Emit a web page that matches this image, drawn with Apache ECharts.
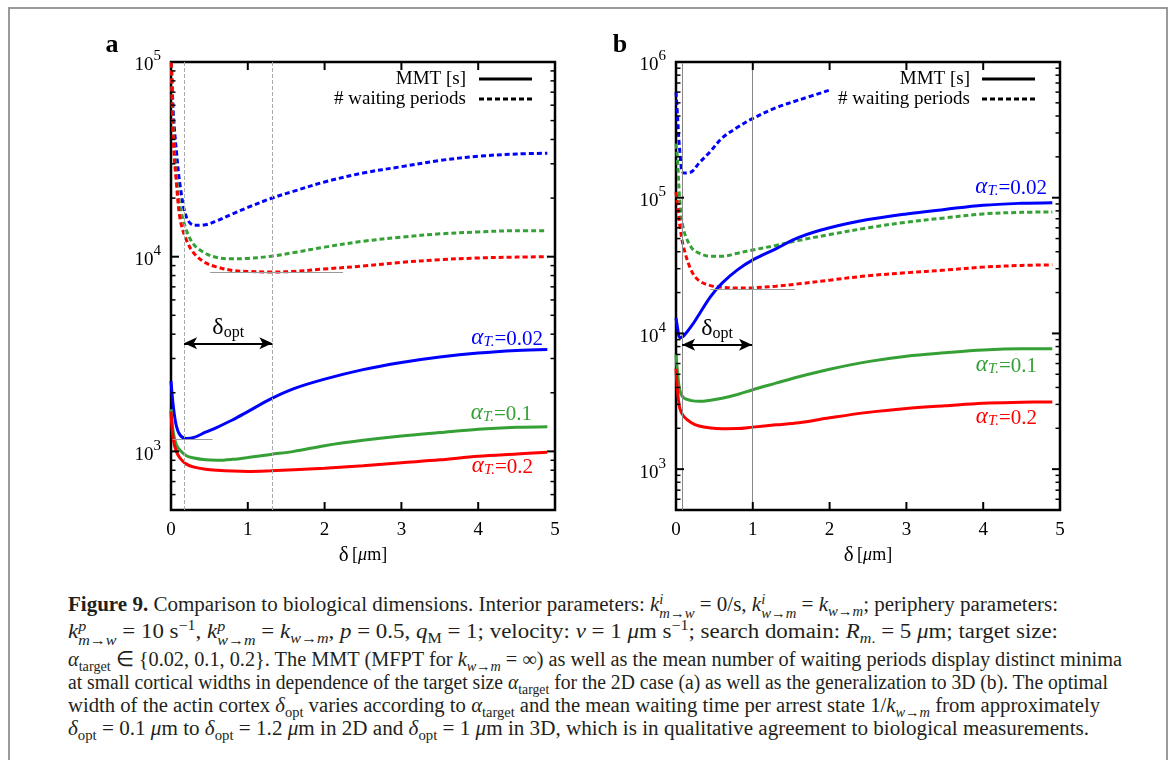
<!DOCTYPE html>
<html>
<head>
<meta charset="utf-8">
<script src="https://cdn.jsdelivr.net/npm/echarts@6/dist/echarts.min.js"></script>
<style>
  body { margin: 0; width: 1171px; height: 760px; overflow: hidden; position: relative; background: #fff; }
  #frame { position: absolute; left: 8px; top: 7px; width: 1156px; height: 800px; border: 2px solid #9a9a9a; }
  #chart { position: absolute; left: 0; top: 0; width: 1171px; height: 580px; }
  #caption { position: absolute; left: 68px; top: 593px; font-family: "Liberation Serif", serif; font-size: 20.5px;
             line-height: 23px; color: #231f20; }
  #caption .ln { display: block; width: max-content; white-space: nowrap; transform-origin: 0 0; }
  #caption sub, #caption sup { font-size: 0.7em; line-height: 0; }
  .ss { display: inline-block; vertical-align: -0.45em; font-size: 0.7em; line-height: 0.95; text-align: left; }
  .ss span { display: block; }
</style>
</head>
<body>
<div id="frame"></div>
<div id="chart"></div>
<div id="caption">
<span class="ln" data-w="990"><b>Figure 9.</b> Comparison to biological dimensions. Interior parameters: <i>k</i><span class="ss"><span><i>i</i></span><span><i>m</i>→<i>w</i></span></span> = 0/s, <i>k</i><span class="ss"><span><i>i</i></span><span><i>w</i>→<i>m</i></span></span> = <i>k</i><sub><i>w</i>→<i>m</i></sub>; periphery parameters:</span>
<span class="ln" data-w="990"><i>k</i><span class="ss"><span><i>p</i></span><span><i>m</i>→<i>w</i></span></span> = 10 s<sup>−1</sup>, <i>k</i><span class="ss"><span><i>p</i></span><span><i>w</i>→<i>m</i></span></span> = <i>k</i><sub><i>w</i>→<i>m</i></sub>, <i>p</i> = 0.5, <i>q</i><sub>M</sub> = 1; velocity: <i>v</i> = 1 <i>μ</i>m s<sup>−1</sup>; search domain: <i>R</i><sub><i>m</i>.</sub> = 5 <i>μ</i>m; target size:</span>
<span class="ln" data-w="1054"><i>α</i><sub>target</sub> ∈ {0.02, 0.1, 0.2}. The MMT (MFPT for <i>k</i><sub><i>w</i>→<i>m</i></sub> = ∞) as well as the mean number of waiting periods display distinct minima</span>
<span class="ln" data-w="1040">at small cortical widths in dependence of the target size <i>α</i><sub>target</sub> for the 2D case (a) as well as the generalization to 3D (b). The optimal</span>
<span class="ln" data-w="1032">width of the actin cortex <i>δ</i><sub>opt</sub> varies according to <i>α</i><sub>target</sub> and the mean waiting time per arrest state 1/<i>k</i><sub><i>w</i>→<i>m</i></sub> from approximately</span>
<span class="ln" data-w="1021"><i>δ</i><sub>opt</sub> = 0.1 <i>μ</i>m to <i>δ</i><sub>opt</sub> = 1.2 <i>μ</i>m in 2D and <i>δ</i><sub>opt</sub> = 1 <i>μ</i>m in 3D, which is in qualitative agreement to biological measurements.</span>
</div>
<script>
  // caption lines are squeezed to the widths of the printed caption
  document.querySelectorAll('#caption .ln').forEach(el => {
    const w = el.getBoundingClientRect().width;
    el.style.transform = 'scaleX(' + (Number(el.dataset.w) / w) + ')';
  });

  // panel a (2D): cortex width delta [um] and curves
  const deltaA = [0, 0.03, 0.07, 0.12, 0.2, 0.3, 0.45, 0.6, 0.8, 1.0, 1.3, 1.6, 2.0, 2.5, 3.0, 3.5, 4.0, 4.5, 4.9];
  const mmtA002 = [2300, 1700, 1350, 1210, 1165, 1180, 1255, 1330, 1450, 1600, 1860, 2100, 2350, 2630, 2860, 3050, 3200, 3300, 3340];
  const mmtA01 = [1650, 1250, 1080, 1010, 950, 925, 905, 900, 910, 930, 965, 1000, 1070, 1140, 1200, 1250, 1300, 1330, 1340];
  const mmtA02 = [1600, 1150, 1000, 920, 860, 830, 810, 800, 792, 789, 795, 805, 820, 845, 875, 905, 945, 970, 990];
  const waitA002 = [120000, 55000, 35000, 23000, 16000, 14500, 14600, 15300, 16600, 17900, 19900, 21700, 24200, 26900, 29000, 31200, 32800, 33700, 34000];
  const waitA01 = [120000, 45000, 26000, 18000, 13700, 11500, 10400, 9900, 9750, 9800, 10050, 10500, 11200, 12000, 12600, 13100, 13400, 13600, 13600];
  const waitA02 = [120000, 40000, 24000, 15500, 12200, 10400, 9300, 8850, 8500, 8400, 8350, 8400, 8650, 8950, 9350, 9650, 9850, 9950, 10000];

  // panel b (3D)
  const deltaB = [0, 0.02, 0.05, 0.1, 0.2, 0.3, 0.45, 0.6, 0.8, 1.0, 1.3, 1.6, 2.0, 2.5, 3.0, 3.5, 4.0, 4.5, 4.9];
  const mmtB002 = [13000, 11000, 9300, 9600, 11300, 13800, 18700, 23500, 29400, 34800, 42000, 51000, 60000, 69000, 76000, 82000, 88000, 91000, 92000];
  const mmtB01 = [7000, 5200, 3800, 3350, 3200, 3160, 3220, 3330, 3550, 3850, 4300, 4800, 5450, 6200, 6800, 7200, 7550, 7700, 7700];
  const mmtB02 = [5500, 3800, 2800, 2450, 2200, 2080, 2010, 1985, 1990, 2040, 2120, 2200, 2390, 2620, 2800, 2930, 3060, 3110, 3130];
  const waitB002 = [600000, 400000, 220000, 152000, 155000, 180000, 220000, 275000, 330000, 384000, 460000, 525000, 620000, null, null, null, null, null, null];
  const waitB01 = [250000, 190000, 95000, 58000, 43000, 39000, 37000, 37000, 39000, 41200, 44500, 48500, 53500, 60000, 66000, 71000, 76000, 78000, 78500];
  const waitB02 = [110000, 88000, 62000, 43000, 29000, 24500, 22500, 21900, 21600, 21700, 22300, 23200, 24700, 26600, 28000, 29300, 30800, 31700, 32000];

  // annotations: optimal widths, minimum guides, arrow height
  const optA = [0.17, 1.32];
  const optB = [0.08, 0.99];
  const arrowYA = 3590;
  const arrowYB = 8260;
  const guideA1 = [0.02, 0.54, 1160];
  const guideA2 = [0.51, 2.24, 8310];
  const guideB1 = [0.45, 1.55, 21000];

  const xTicks = [1, 2, 3, 4];
  const yMajorA = [1e3, 1e4, 1e5];
  const yMajorB = [1e3, 1e4, 1e5, 1e6];
  const minorMult = [2, 3, 4, 5, 6, 7, 8, 9];
  const Y_MIN = 500;

  const BLUE = '#0000ff', GREEN = '#35a035', RED = '#ff0000';
  const FONT = '"Liberation Serif", serif';

  function minors(max) {
    const out = [];
    for (let d = 100; d < max; d *= 10) minorMult.forEach(m => { if (m * d >= Y_MIN && m * d < max) out.push(m * d); });
    return out;
  }
  function pairs(xs, ys) {
    return xs.map((x, i) => [x, ys[i]]).filter(p => p[1] != null);
  }

  const chart = echarts.init(document.getElementById('chart'));

  const grids = [
    { left: 171, top: 62, width: 384, height: 448, show: true, borderColor: '#000', borderWidth: 2.5 },
    { left: 676, top: 62, width: 384, height: 448, show: true, borderColor: '#000', borderWidth: 2.5 }
  ];
  const yMax = [1e5, 1e6];

  const xAxes = [], yAxes = [];
  [0, 1].forEach(g => {
    xAxes.push({
      type: 'value', gridIndex: g, min: 0, max: 5, interval: 1, position: 'bottom',
      axisLine: { show: false }, axisTick: { show: false }, splitLine: { show: false },
      axisLabel: { fontFamily: FONT, fontSize: 19, color: '#000', margin: 11 },
      name: '{d|δ} {n|[}{m|μ}{n|m]}', nameLocation: 'middle', nameGap: 35,
      nameTextStyle: { rich: {
        d: { fontFamily: FONT, fontSize: 21, color: '#000' },
        n: { fontFamily: FONT, fontSize: 18, color: '#000' },
        m: { fontFamily: FONT, fontSize: 18, fontStyle: 'italic', color: '#000' } } }
    });
    const majors = g === 0 ? yMajorA : yMajorB;
    yAxes.push({
      type: 'log', logBase: 10, gridIndex: g, min: Y_MIN, max: yMax[g], position: 'left',
      axisLine: { show: false }, axisTick: { show: false }, splitLine: { show: false },
      axisLabel: {
        customValues: majors, margin: 10,
        formatter: v => '{b|10}{e|' + Math.round(Math.log10(v)) + '}',
        rich: {
          b: { fontFamily: FONT, fontSize: 19, color: '#000', lineHeight: 26, verticalAlign: 'bottom' },
          e: { fontFamily: FONT, fontSize: 15, color: '#000', lineHeight: 15, verticalAlign: 'top' }
        }
      }
    });
  });

  function curve(g, xs, ys, color, dashed) {
    return {
      type: 'line', xAxisIndex: g, yAxisIndex: g,
      data: pairs(xs, ys), smooth: 0.35, showSymbol: false, silent: true,
      lineStyle: { color: color, width: 3, type: dashed ? [5, 3] : 'solid' },
      z: dashed ? 3 : 4
    };
  }

  const optLabel = {
    show: true, position: 'insideMiddleTop', distance: 3,
    formatter: '{d|δ}{s|opt}',
    rich: {
      d: { fontFamily: FONT, fontSize: 24, color: '#000' },
      s: { fontFamily: FONT, fontSize: 16, color: '#000', verticalAlign: 'bottom', padding: [10, 0, 0, 0] }
    }
  };
  function guides(g, opt, arrowY, segs, vStyle) {
    const data = [
      { xAxis: opt[0], lineStyle: vStyle },
      { xAxis: opt[1], lineStyle: vStyle }
    ];
    segs.forEach(s => data.push([
      { coord: [s[0], s[2]], lineStyle: { color: '#999', width: 1, type: 'solid' } },
      { coord: [s[1], s[2]] }
    ]));
    data.push([
      { coord: [opt[0], arrowY], symbol: 'arrow', symbolSize: [9, 13], lineStyle: { color: '#000', width: 2, type: 'solid' }, label: optLabel },
      { coord: [opt[1], arrowY], symbol: 'arrow', symbolSize: [9, 13] }
    ]);
    return {
      type: 'line', xAxisIndex: g, yAxisIndex: g, data: [], silent: true,
      markLine: { silent: true, animation: false, symbol: 'none', label: { show: false }, data: data }
    };
  }

  const series = [
    guides(0, optA, arrowYA, [guideA1, guideA2], { color: '#aaa', width: 1, type: [4, 2] }),
    guides(1, optB, arrowYB, [guideB1], { color: '#888', width: 1, type: 'solid' }),
    curve(0, deltaA, waitA002, BLUE, true),
    curve(0, deltaA, waitA01, GREEN, true),
    curve(0, deltaA, waitA02, RED, true),
    curve(0, deltaA, mmtA002, BLUE, false),
    curve(0, deltaA, mmtA01, GREEN, false),
    curve(0, deltaA, mmtA02, RED, false),
    curve(1, deltaB, waitB002, BLUE, true),
    curve(1, deltaB, waitB01, GREEN, true),
    curve(1, deltaB, waitB02, RED, true),
    curve(1, deltaB, mmtB002, BLUE, false),
    curve(1, deltaB, mmtB01, GREEN, false),
    curve(1, deltaB, mmtB02, RED, false)
  ];
  const gridSeries = [2, 8]; // a curve series living in each grid

  // text annotations
  function txt(x, y, text, align, style) {
    return { type: 'text', x: x, y: y, z: 10, silent: true,
      style: Object.assign({ text: text, align: align, verticalAlign: 'middle', fontFamily: FONT, fontSize: 19, fill: '#000' }, style || {}) };
  }
  function seg(x1, y1, x2, y2, w, dash) {
    const style = { stroke: '#000', lineWidth: w };
    if (dash) style.lineDash = dash;
    return { type: 'line', z: 10, silent: true, shape: { x1: x1, y1: y1, x2: x2, y2: y2 }, style: style };
  }
  function alpha(x, y, val, color) {
    return txt(x, y, '{a|α}{t|T.}{n|=' + val + '}', 'right', {
      rich: {
        a: { fontFamily: FONT, fontSize: 23, fontStyle: 'italic', fill: color, verticalAlign: 'bottom' },
        t: { fontFamily: FONT, fontSize: 15, fontStyle: 'italic', fill: color, verticalAlign: 'bottom', padding: [8, 0, 0, 0] },
        n: { fontFamily: FONT, fontSize: 21, fill: color, verticalAlign: 'bottom' }
      }
    });
  }
  function legend(xr, x1, x2) {
    return [
      txt(xr, 79, 'MMT [s]', 'right'),
      txt(xr, 99, '# waiting periods', 'right'),
      seg(x1, 79, x2, 79, 3),
      seg(x1, 99, x2, 99, 3, [5, 3])
    ];
  }

  const graphic = [
    txt(112, 45, 'a', 'center', { fontSize: 26, fontWeight: 'bold' }),
    txt(620, 45, 'b', 'center', { fontSize: 26, fontWeight: 'bold' }),
    ...legend(466, 479, 532),
    ...legend(970, 982, 1035),
    alpha(543, 338, '0.02', BLUE),
    alpha(532, 413, '0.1', GREEN),
    alpha(533, 466, '0.2', RED),
    alpha(1047, 187, '0.02', BLUE),
    alpha(1037, 365, '0.1', GREEN),
    alpha(1037, 417, '0.2', RED)
  ];

  chart.setOption({
    animation: false,
    grid: grids,
    xAxis: xAxes,
    yAxis: yAxes,
    series: series
  });

  // inward gnuplot-style ticks on all four sides, positioned through each grid's own scales
  function toPx(g, x, y) {
    let p = null;
    try { p = chart.convertToPixel({ seriesIndex: gridSeries[g] }, [x, y]); } catch (e) { p = null; }
    if (!p || !isFinite(p[0]) || !isFinite(p[1])) {
      const gr = grids[g];
      const ly0 = Math.log10(Y_MIN), ly1 = Math.log10(yMax[g]);
      p = [gr.left + gr.width * x / 5, gr.top + gr.height * (ly1 - Math.log10(y)) / (ly1 - ly0)];
    }
    return p;
  }
  const ticks = [];
  [0, 1].forEach(g => {
    const lb = toPx(g, 0, Y_MIN), rt = toPx(g, 5, yMax[g]);
    const xl = lb[0], yb = lb[1], xr = rt[0], yt = rt[1];
    xTicks.forEach(v => {
      const px = toPx(g, v, Y_MIN)[0];
      ticks.push(seg(px, yb, px, yb - 8, 2), seg(px, yt, px, yt + 8, 2));
    });
    (g === 0 ? yMajorA : yMajorB).forEach(v => {
      const py = toPx(g, 1, v)[1];
      ticks.push(seg(xl, py, xl + 8, py, 2), seg(xr, py, xr - 8, py, 2));
    });
    minors(yMax[g]).forEach(v => {
      const py = toPx(g, 1, v)[1];
      ticks.push(seg(xl, py, xl + 4.5, py, 1.5), seg(xr, py, xr - 4.5, py, 1.5));
    });
  });
  chart.setOption({ graphic: { elements: graphic.concat(ticks) } });
</script>
</body>
</html>
